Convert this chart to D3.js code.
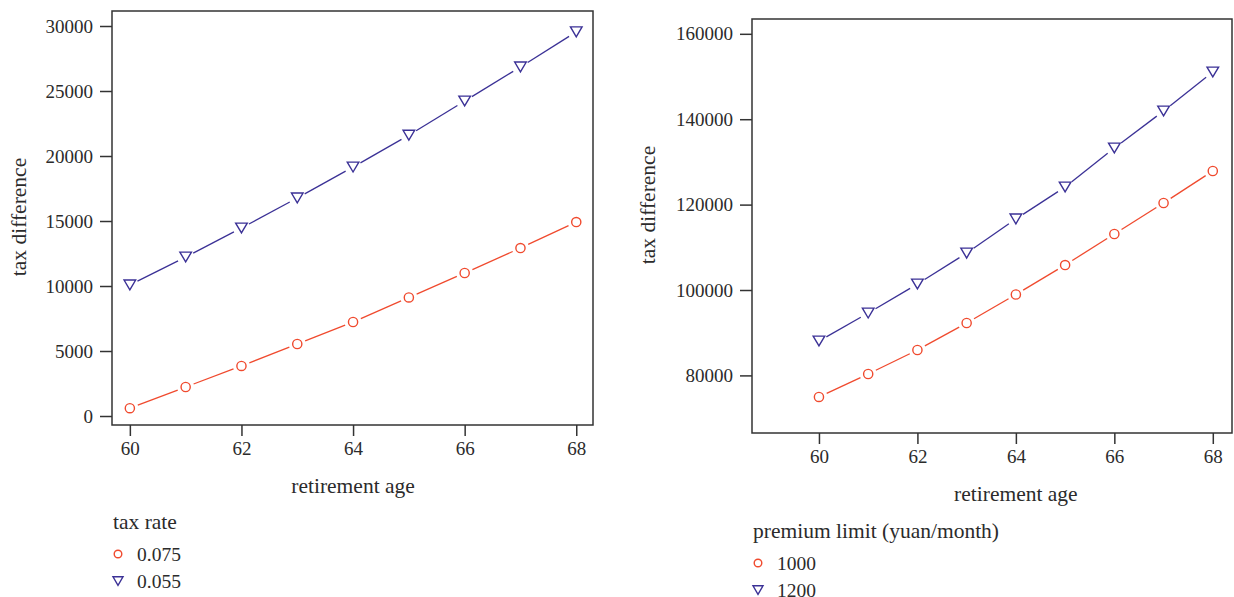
<!DOCTYPE html>
<html>
<head>
<meta charset="utf-8">
<script src="https://cdn.jsdelivr.net/npm/d3@7"></script>
<style>
  body { margin: 0; background: #fff; }
  svg text { font-family: "Liberation Serif", "Times New Roman", serif; fill: #2b2b2b; }
</style>
</head>
<body>
<div id="vis"></div>
<script>
// data
const ages = [60, 61, 62, 63, 64, 65, 66, 67, 68];
const taxRate075 = [600, 2230, 3850, 5540, 7230, 9120, 11000, 12920, 14920];
const taxRate055 = [10080, 12230, 14460, 16770, 19150, 21600, 24230, 26850, 29550];
const premium1000 = [74950, 80330, 85950, 92270, 98950, 105850, 113120, 120380, 127870];
const premium1200 = [88050, 94600, 101400, 108650, 116630, 124120, 133250, 141920, 151050];
const leftTicks = [0, 5000, 10000, 15000, 20000, 25000, 30000];
const rightTicks = [80000, 100000, 120000, 140000, 160000];
const xTicks = [60, 62, 64, 66, 68];

const red = "#f04a2e";
const blue = "#3b3196";
const numSize = '19px';
const wordSize = '21.5px';

const svg = d3.select('#vis').append('svg')
    .attr('width', 1234)
    .attr('height', 597);

function drawPanel(opt) {
    const x = d3.scaleLinear().domain(opt.xDomain).range([opt.left, opt.right]);
    const y = d3.scaleLinear().domain(opt.yDomain).range([opt.bottom, opt.top]);
    const g = svg.append('g');

    // frame
    g.append('rect')
        .attr('x', opt.left).attr('y', opt.top)
        .attr('width', opt.right - opt.left).attr('height', opt.bottom - opt.top)
        .attr('fill', 'none').attr('stroke', '#333').attr('stroke-width', 1.5);

    // y axis
    const yAxis = d3.axisLeft(y).tickValues(opt.yTicks).tickSize(12).tickPadding(7).tickFormat(d3.format('d'));
    const ya = g.append('g').attr('transform', `translate(${opt.left},0)`).call(yAxis);
    ya.select('.domain').remove();
    ya.selectAll('line').attr('stroke', '#333').attr('stroke-width', 1.5);
    ya.selectAll('text').style('font-size', numSize);

    // x axis
    const xAxis = d3.axisBottom(x).tickValues(xTicks).tickSize(11).tickPadding(6);
    const xa = g.append('g').attr('transform', `translate(0,${opt.bottom})`).call(xAxis);
    xa.select('.domain').remove();
    xa.selectAll('line').attr('stroke', '#333').attr('stroke-width', 1.5);
    xa.selectAll('text').style('font-size', numSize);

    g.append('text')
        .attr('x', x(64)).attr('y', opt.bottom + 68)
        .attr('text-anchor', 'middle')
        .style('font-size', wordSize)
        .text('retirement age');

    g.append('text')
        .attr('transform', `translate(${opt.left - opt.ylabOff},${opt.ylabY}) rotate(-90)`)
        .attr('text-anchor', 'middle')
        .style('font-size', wordSize)
        .text('tax difference');

    // series: lines broken around the points, like type="b"
    opt.series.forEach(s => {
        const pts = ages.map((a, i) => [x(a), y(s.values[i])]);
        const gap = 8.5;
        for (let i = 0; i < pts.length - 1; i++) {
            const [x0, y0] = pts[i], [x1, y1] = pts[i + 1];
            const len = Math.hypot(x1 - x0, y1 - y0);
            const ux = (x1 - x0) / len, uy = (y1 - y0) / len;
            g.append('line')
                .attr('x1', x0 + ux * gap).attr('y1', y0 + uy * gap)
                .attr('x2', x1 - ux * gap).attr('y2', y1 - uy * gap)
                .attr('stroke', s.color).attr('stroke-width', 1.3);
        }
        g.selectAll(null).data(pts).enter().append('path')
            .attr('transform', d => `translate(${d[0]},${d[1]})`)
            .attr('d', s.shape === 'circle' ? circlePath(4.6) : triPath(5.8))
            .attr('fill', 'none').attr('stroke', s.color).attr('stroke-width', 1.4);
    });

    // legend
    const lg = g.append('g');
    lg.append('text').attr('x', opt.left + 1).attr('y', opt.legY)
        .style('font-size', wordSize).text(opt.legTitle);
    opt.series.forEach((s, i) => {
        const cy = opt.legY + 25 + i * 27;
        lg.append('path')
            .attr('transform', `translate(${opt.left + 6},${cy})`)
            .attr('d', s.shape === 'circle' ? circlePath(3.8) : triPath(5))
            .attr('fill', 'none').attr('stroke', s.color).attr('stroke-width', 1.4);
        lg.append('text').attr('x', opt.left + 25).attr('y', cy + 6.5)
            .style('font-size', '19.5px').text(s.name);
    });
}

function circlePath(r) {
    const p = d3.path();
    p.moveTo(r, 0);
    p.arc(0, 0, r, 0, 2 * Math.PI);
    return p.toString();
}
function triPath(s) {
    const h = s * 1.7;
    return `M${-s},${-h / 2}L${s},${-h / 2}L0,${h / 2}Z`;
}

drawPanel({
    left: 112, right: 593, top: 11, bottom: 425,
    xDomain: [59.68, 68.3], yDomain: [-692, 31154],
    yTicks: leftTicks, ylabY: 217, ylabOff: 86,
    legTitle: 'tax rate', legY: 529,
    series: [
        { name: '0.075', values: taxRate075, color: red, shape: 'circle' },
        { name: '0.055', values: taxRate055, color: blue, shape: 'tri' }
    ]
});

drawPanel({
    left: 752, right: 1232, top: 19, bottom: 433,
    xDomain: [58.64, 68.39], yDomain: [66510, 163470],
    yTicks: rightTicks, ylabY: 205, ylabOff: 97,
    legTitle: 'premium limit (yuan/month)', legY: 538,
    series: [
        { name: '1000', values: premium1000, color: red, shape: 'circle' },
        { name: '1200', values: premium1200, color: blue, shape: 'tri' }
    ]
});
</script>
</body>
</html>
